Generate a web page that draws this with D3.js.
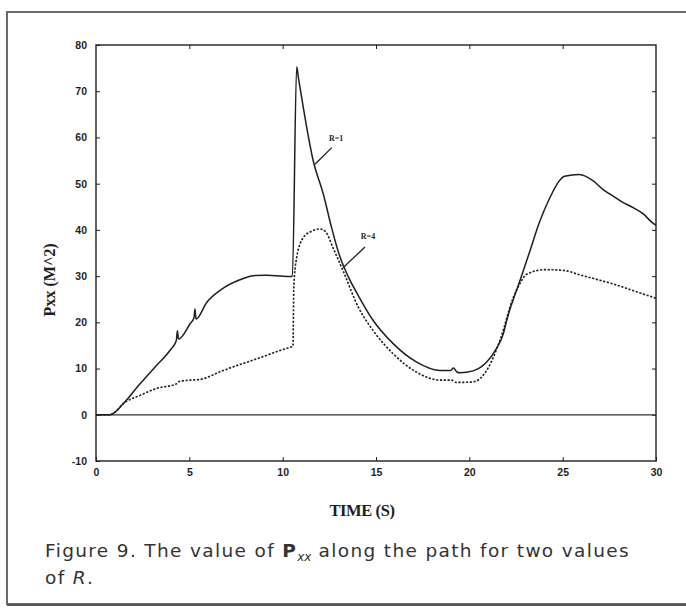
<!DOCTYPE html>
<html>
<head>
<meta charset="utf-8">
<script src="https://cdn.jsdelivr.net/npm/d3@7"></script>
<style>
    body { margin: 0; background: #fff; }
    svg { display: block; }
</style>
</head>
<body>
<div id="chart"></div>
<script>
// Data (time in s, Pxx in m^2)
const timeR1 = [0, 0.75, 1.0, 1.46, 2.36, 3.25, 3.96, 4.3, 4.36, 4.42, 5.04, 5.25, 5.3, 5.36, 5.93, 6.82, 7.71, 8.43, 9.14, 10.52,
    10.75, 10.85, 11.64, 12.18, 12.62, 13.0, 13.5, 14.05, 14.85, 15.92, 17.18, 18.43, 19.0, 19.15, 19.35, 19.5, 20.2, 20.93, 21.4, 21.82,
    22.0, 22.71, 23.25, 23.78, 24.32, 24.8, 25.1, 25.9, 26.64, 27.2, 27.7, 28.2, 28.78, 29.3, 29.85, 30];
const pxxR1 = [0, 0, 0.5, 2.4, 6.7, 10.7, 13.9, 16.0, 18.2, 16.4, 19.7, 21.0, 22.9, 20.7, 24.3, 27.4, 29.2, 30.1, 30.2, 29.9,
    75.3, 72.8, 54.9, 47.7, 40.5, 35.0, 30.0, 25.8, 20.4, 15.4, 11.4, 9.6, 9.6, 10.1, 9.2, 9.1, 9.5, 11.4, 14.0, 17.5,
    20.4, 29.0, 35.5, 41.9, 47.0, 50.5, 51.6, 52.0, 50.6, 48.6, 47.3, 46.0, 44.8, 43.5, 41.4, 41.0];

const timeR4 = [0, 0.75, 1.0, 1.46, 2.36, 3.25, 4.32, 4.45, 5.04, 5.5, 6.82, 8.6, 10.39, 10.55, 10.6, 10.75, 11.1, 11.5, 12.0,
    12.3, 12.71, 13.25, 14.05, 14.85, 15.92, 17.18, 18.43, 19.05, 19.3, 19.5, 20.2, 20.93, 21.64, 22.36, 22.7, 23.07, 24.05,
    25.1, 25.9, 27.7, 29.85, 30];
const pxxR4 = [0, 0, 0.5, 2.4, 4.2, 5.7, 6.7, 7.2, 7.5, 7.6, 9.6, 12.1, 14.6, 14.8, 28.0, 34.0, 38.3, 39.6, 40.2,
    39.6, 36.0, 31.0, 23.3, 18.2, 13.2, 9.2, 7.5, 7.5, 7.0, 7.0, 7.1, 9.6, 16.1, 25.4, 28.3, 30.4, 31.4,
    31.2, 30.3, 28.3, 25.4, 25.2];

const timeZero = [0, 30];
const pxxZero = [0, 0];

const xTicks = [0, 5, 10, 15, 20, 25, 30];
const yTicks = [-10, 0, 10, 20, 30, 40, 50, 60, 70, 80];

// Labels with leader lines, in data units
const notes = [
    { label: 'R=1', tx: 12.86, ty: 59.3, x1: 12.63, y1: 57.8, x2: 11.73, y2: 54.2 },
    { label: 'R=4', tx: 14.57, ty: 38.0, x1: 14.41, y1: 36.3, x2: 13.23, y2: 31.8 }
];

const config = {
    width: 686,
    height: 609,
    left: 96,
    right: 656,
    top: 45,
    bottom: 461,
    ink: '#1e1e1e',
    captionRight: 630
};

const svg = d3.select('#chart')
    .append('svg')
    .attr('width', config.width)
    .attr('height', config.height);

// Page frame (clipped on the right like the scan)
svg.append('path')
    .attr('d', `M${config.width + 5},12 H7 V604 H${config.width + 5}`)
    .attr('fill', 'none')
    .attr('stroke', '#6a6a6a')
    .attr('stroke-width', 2);
svg.append('line')
    .attr('x1', 7).attr('x2', config.width)
    .attr('y1', 605).attr('y2', 605)
    .attr('stroke', '#555').attr('stroke-width', 2);

const x = d3.scaleLinear().domain([0, 30]).range([config.left, config.right]);
const y = d3.scaleLinear().domain([-10, 80]).range([config.bottom, config.top]);

const tickFont = g => g.selectAll('text')
    .attr('font-family', 'Liberation Sans, Arial, sans-serif')
    .attr('font-weight', 'bold')
    .attr('font-size', 10.5)
    .attr('fill', config.ink);

// Axes with inward ticks
svg.append('g')
    .attr('transform', `translate(0,${config.bottom})`)
    .call(d3.axisBottom(x).tickValues(xTicks).tickSizeInner(-4).tickSizeOuter(0).tickPadding(8).tickFormat(d => String(d)))
    .call(tickFont)
    .call(g => g.select('.domain').remove())
    .call(g => g.selectAll('line').attr('stroke', config.ink));

svg.append('g')
    .attr('transform', `translate(0,${config.top})`)
    .call(d3.axisTop(x).tickValues(xTicks.slice(1, -1)).tickSizeInner(-4).tickSizeOuter(0).tickFormat(''))
    .call(g => g.select('.domain').remove())
    .call(g => g.selectAll('line').attr('stroke', config.ink));

svg.append('g')
    .attr('transform', `translate(${config.left},0)`)
    .call(d3.axisLeft(y).tickValues(yTicks).tickSizeInner(-4).tickSizeOuter(0).tickPadding(9).tickFormat(d => String(d)))
    .call(tickFont)
    .call(g => g.select('.domain').remove())
    .call(g => g.selectAll('line').attr('stroke', config.ink));

svg.append('g')
    .attr('transform', `translate(${config.right},0)`)
    .call(d3.axisRight(y).tickValues(yTicks.slice(1, -1)).tickSizeInner(-4).tickSizeOuter(0).tickFormat(''))
    .call(g => g.select('.domain').remove())
    .call(g => g.selectAll('line').attr('stroke', config.ink));

// Plot frame
svg.append('rect')
    .attr('x', config.left)
    .attr('y', config.top)
    .attr('width', config.right - config.left)
    .attr('height', config.bottom - config.top)
    .attr('fill', 'none')
    .attr('stroke', config.ink)
    .attr('stroke-width', 1.4);

const line = d3.line()
    .x(d => x(d[0]))
    .y(d => y(d[1]))
    .curve(d3.curveMonotoneX);

svg.append('path')
    .datum(d3.zip(timeZero, pxxZero))
    .attr('d', line)
    .attr('fill', 'none')
    .attr('stroke', '#333')
    .attr('stroke-width', 1.2);

svg.append('path')
    .datum(d3.zip(timeR4, pxxR4))
    .attr('d', line)
    .attr('fill', 'none')
    .attr('stroke', config.ink)
    .attr('stroke-width', 1.6)
    .attr('stroke-dasharray', '2.2,1.6');

svg.append('path')
    .datum(d3.zip(timeR1, pxxR1))
    .attr('d', line)
    .attr('fill', 'none')
    .attr('stroke', config.ink)
    .attr('stroke-width', 1.5)
    .attr('stroke-linejoin', 'round');

// Curve labels
notes.forEach(n => {
    svg.append('line')
        .attr('x1', x(n.x1)).attr('y1', y(n.y1))
        .attr('x2', x(n.x2)).attr('y2', y(n.y2))
        .attr('stroke', config.ink)
        .attr('stroke-width', 1.3);
    svg.append('text')
        .attr('x', x(n.tx))
        .attr('y', y(n.ty))
        .attr('text-anchor', 'middle')
        .attr('font-family', 'Liberation Serif, serif')
        .attr('font-weight', 'bold')
        .attr('font-size', 8)
        .attr('fill', config.ink)
        .text(n.label);
});

// Axis titles
svg.append('text')
    .attr('x', 362)
    .attr('y', 516)
    .attr('text-anchor', 'middle')
    .attr('font-family', 'Liberation Serif, serif')
    .attr('font-weight', 'bold')
    .attr('font-size', 16.5)
    .attr('letter-spacing', -0.4)
    .attr('fill', config.ink)
    .text('TIME (S)');

svg.append('text')
    .attr('transform', 'translate(55,280) rotate(-90)')
    .attr('text-anchor', 'middle')
    .attr('font-family', 'Liberation Serif, serif')
    .attr('font-weight', 'bold')
    .attr('font-size', 16.5)
    .attr('letter-spacing', -0.2)
    .attr('fill', config.ink)
    .text('Pxx (M^2)');

// Caption
const captionFont = 'DejaVu Sans, Verdana, sans-serif';
const captionSize = 18.5;
const cap = svg.append('text')
    .attr('x', 45)
    .attr('y', 557)
    .attr('font-family', captionFont)
    .attr('font-size', captionSize)
    .attr('fill', '#333');
const capParts = [
    cap.append('tspan').text('Figure 9. The value of '),
    cap.append('tspan').attr('font-weight', 'bold').text('P'),
    cap.append('tspan').attr('font-style', 'italic').attr('font-size', 12).attr('dy', 4).attr('letter-spacing', 0).text('xx'),
    cap.append('tspan').attr('dy', -4).text(' along the path for two values')
];

const capWidth = cap.node().getComputedTextLength();
const spacedChars = cap.text().length - 2;
const spacing = Math.max(-1, (config.captionRight - 45 - capWidth) / spacedChars);
[0, 1, 3].forEach(i => capParts[i].attr('letter-spacing', spacing));

const cap2 = svg.append('text')
    .attr('x', 45)
    .attr('y', 584)
    .attr('font-family', captionFont)
    .attr('font-size', captionSize)
    .attr('letter-spacing', spacing)
    .attr('fill', '#333');
cap2.append('tspan').text('of ');
cap2.append('tspan').attr('font-style', 'italic').text('R');
cap2.append('tspan').text('.');
</script>
</body>
</html>
